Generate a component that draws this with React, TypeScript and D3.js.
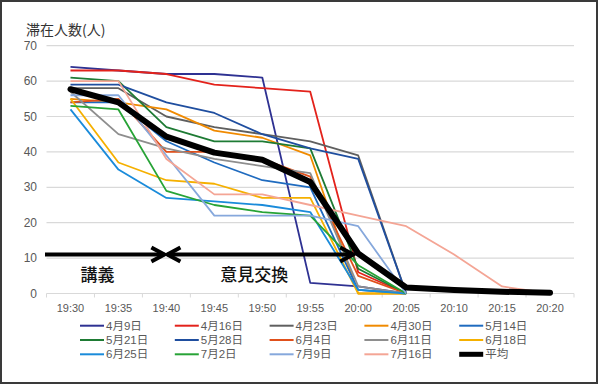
import React from "react";
import * as d3 from "d3";

const times = ["19:30", "19:35", "19:40", "19:45", "19:50", "19:55", "20:00", "20:05", "20:10", "20:15", "20:20"];
const yTicks = [0, 10, 20, 30, 40, 50, 60, 70];

const names = ["4月9日", "4月16日", "4月23日", "4月30日", "5月14日", "5月21日", "5月28日", "6月4日", "6月11日", "6月18日", "6月25日", "7月2日", "7月9日", "7月16日"];
const colors = ["#2E3192", "#E3221B", "#5F5F5F", "#F08A00", "#1F6BBF", "#1E7B34", "#1F4E9F", "#E0501B", "#8E8E8E", "#F5B000", "#1A8BDA", "#27A336", "#86A8DC", "#F4A595"];

const apr9 = [64, 63, 62, 62, 61, 3, 2, 0];
const apr16 = [63, 63, 62, 59, 58, 57, 6, 0];
const apr23 = [58, 58, 50, 47, 45, 43, 39, 0];
const apr30 = [55, 54, 52, 46, 44, 39, 0, 0];
const may14 = [54, 54, 43, 37, 32, 30, 1, 0];
const may21 = [61, 60, 47, 43, 43, 41, 7, 0];
const may28 = [59, 59, 54, 51, 45, 41, 38, 0];
const jun4 = [54, 55, 40, 40, 38, 33, 5, 0];
const jun11 = [57, 45, 41, 38, 36, 34, 2, 0];
const jun18 = [55, 37, 32, 31, 27, 27, 0, 0];
const jun25 = [52, 35, 27, 26, 25, 23, 1, 0];
const jul2 = [53, 52, 29, 25, 23, 22, 8, 0];
const jul9 = [56, 56, 39, 22, 22, 22, 19, 0];
const jul16 = [60, 60, 38, 28, 28, 25, 22, 19, 11, 2, 0];
const average = [57.7, 54, 44.3, 39.8, 37.8, 31.5, 11.3, 1.7, 1, 0.5, 0.2];

const seriesValues = [apr9, apr16, apr23, apr30, may14, may21, may28, jun4, jun11, jun18, jun25, jul2, jul9, jul16];

const arrowLevel = 11;
const lectureLabel = "講義";
const discussionLabel = "意見交換";
const yTitle = "滞在人数(人)";
const avgName = "平均";

const FONT = "'Noto Sans CJK JP', 'Noto Sans', sans-serif";
const SMALL_FONT = "'Liberation Sans', 'Noto Sans CJK JP', sans-serif";

export default function App() {
  const W = 600, H = 385;
  const left = 46.5, right = 574, top = 45.7, bottom = 293.5;
  const x = d3.scaleBand<string>().domain(times).range([left, right]);
  const cx = (t: string) => (x(t) as number) + x.bandwidth() / 2;
  const y = d3.scaleLinear().domain([0, 70]).range([bottom, top]);

  const line = d3
    .line<number>()
    .x((_, i) => cx(times[i]))
    .y((v) => y(v));

  const legendItems = [
    ...names.map((n, i) => ({ name: n, color: colors[i], w: 2 })),
    { name: avgName, color: "#000", w: 5 },
  ];

  const ay = y(arrowLevel);
  const a1s = left - 1.5;
  const a1e = cx("19:40") - 2;
  const a2s = cx("19:40") + 1;
  const a2e = cx("20:00") - 5;
  const chev = 13, half = 7;

  return (
    <div style={{ position: "fixed", left: 0, top: 0, width: W, height: H, background: "#fff" }}>
      <svg width={W} height={H} style={{ display: "block" }} fontFamily={FONT}>
        <rect x={1} y={1} width={W - 4} height={H - 3} fill="#fff" stroke="#3a3a3a" strokeWidth={2} />
        <text x={26} y={35} fontSize={14} fill="#333">{yTitle}</text>
        {yTicks.map((t) => (
          <g key={t}>
            <line x1={left} x2={right} y1={y(t)} y2={y(t)} stroke="#D9D9D9" strokeWidth={1.2} />
            <text x={37} y={y(t)} fontSize={12} fill="#595959" textAnchor="end" dominantBaseline="central" fontFamily={SMALL_FONT}>{t}</text>
          </g>
        ))}
        {times.map((t) => (
          <line key={"tk" + t} x1={x(t) as number} x2={x(t) as number} y1={bottom} y2={bottom + 4} stroke="#D9D9D9" />
        ))}
        <line x1={right} x2={right} y1={bottom} y2={bottom + 4} stroke="#D9D9D9" />
        {times.map((t) => (
          <text key={"tl" + t} x={cx(t)} y={308} fontSize={11} fill="#595959" textAnchor="middle" dominantBaseline="central" fontFamily={SMALL_FONT}>{t}</text>
        ))}
        {seriesValues.map((vals, i) => (
          <path key={names[i]} d={line(vals) || ""} fill="none" stroke={colors[i]} strokeWidth={1.8} strokeLinejoin="round" />
        ))}
        <path d={line(average) || ""} fill="none" stroke="#000" strokeWidth={6} strokeLinejoin="round" strokeLinecap="round" />
        <g stroke="#000" strokeWidth={4} fill="none" strokeLinejoin="miter">
          <line x1={a1s} x2={a1e} y1={ay} y2={ay} />
          <polyline points={`${a1e - chev},${ay - half} ${a1e},${ay} ${a1e - chev},${ay + half}`} />
          <line x1={a2s} x2={a2e} y1={ay} y2={ay} />
          <polyline points={`${a2s + chev},${ay - half} ${a2s},${ay} ${a2s + chev},${ay + half}`} />
          <polyline points={`${a2e - chev},${ay - half} ${a2e},${ay} ${a2e - chev},${ay + half}`} />
        </g>
        <text x={(cx("19:30") + cx("19:35")) / 2 + 3} y={273.5} fontSize={17} fill="#111" textAnchor="middle" dominantBaseline="central" fontWeight={500}>{lectureLabel}</text>
        <text x={cx("19:50") - 8} y={273.5} fontSize={17} fill="#111" textAnchor="middle" dominantBaseline="central" fontWeight={500}>{discussionLabel}</text>
        {legendItems.map((it, i) => {
          const col = i % 5, row = Math.floor(i / 5);
          const lx = 80 + col * 94.8;
          const ly = 325.7 + row * 14.3;
          return (
            <g key={"lg" + it.name}>
              <line x1={lx} x2={lx + 24} y1={ly} y2={ly} stroke={it.color} strokeWidth={it.w} />
              <text x={lx + 26} y={ly} fontSize={11.5} fill="#595959" dominantBaseline="central" fontFamily={SMALL_FONT}>{it.name}</text>
            </g>
          );
        })}
      </svg>
    </div>
  );
}
